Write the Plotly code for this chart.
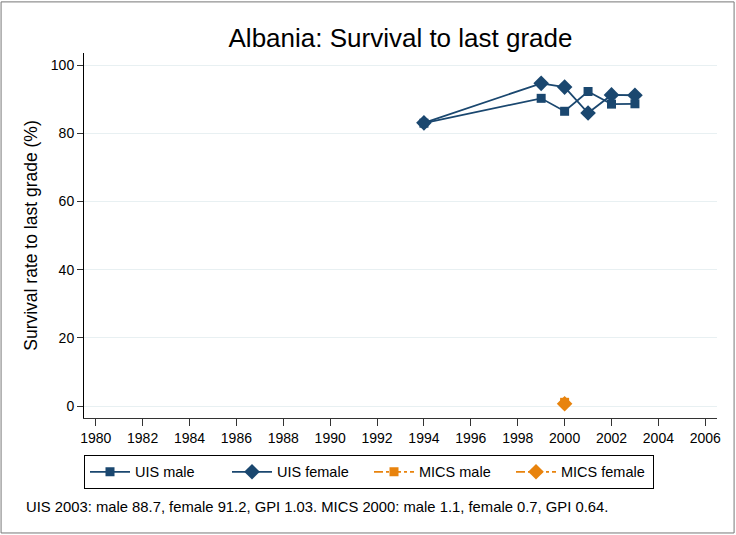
import plotly.graph_objects as go

# survival rate to last grade (%)
uis_years = [1994, 1999, 2000, 2001, 2002, 2003]
uis_male = [83.0, 90.3, 86.5, 92.3, 88.6, 88.7]
uis_female = [83.1, 94.7, 93.6, 86.0, 91.3, 91.2]

mics_years = [2000]
mics_male = [1.1]
mics_female = [0.7]

x_ticks = list(range(1980, 2007, 2))
y_ticks = [0, 20, 40, 60, 80, 100]

NAVY = "#1a476f"
ORANGE = "#e8830d"
FONT = "Liberation Sans, Arial, sans-serif"

fig = go.Figure()

fig.add_trace(go.Scatter(
    x=uis_years, y=uis_male, name="UIS male", mode="lines+markers",
    line=dict(color=NAVY, width=1.8),
    marker=dict(symbol="square", size=9, color=NAVY)
))
fig.add_trace(go.Scatter(
    x=uis_years, y=uis_female, name="UIS female", mode="lines+markers",
    line=dict(color=NAVY, width=1.8),
    marker=dict(symbol="diamond", size=12, color=NAVY)
))
fig.add_trace(go.Scatter(
    x=mics_years, y=mics_male, name="MICS male", mode="lines+markers",
    line=dict(color=ORANGE, width=1.8, dash="dashdot"),
    marker=dict(symbol="square", size=9, color=ORANGE)
))
fig.add_trace(go.Scatter(
    x=mics_years, y=mics_female, name="MICS female", mode="lines+markers",
    line=dict(color=ORANGE, width=1.8, dash="dashdot"),
    marker=dict(symbol="diamond", size=12, color=ORANGE)
))

fig.update_xaxes(
    range=[1979.5, 2006.5], tickvals=x_ticks, showgrid=False, zeroline=False,
    showline=True, linecolor="#333333", linewidth=1, automargin=False,
    ticks="outside", ticklen=7, tickcolor="#333333",
    tickfont=dict(size=14, color="black")
)
fig.update_yaxes(
    range=[-3.5, 103.6], tickvals=y_ticks, showgrid=True, gridcolor="#e8f0f2",
    zeroline=False, showline=True, linecolor="black", linewidth=1, automargin=False,
    ticks="outside", ticklen=6, tickcolor="#333333",
    tickfont=dict(size=14, color="black"),
    title=dict(text="Survival rate to last grade (%)", font=dict(size=17.5, color="black"), standoff=8)
)

fig.add_annotation(
    text="UIS 2003: male 88.7, female 91.2, GPI 1.03. MICS 2000: male 1.1, female 0.7, GPI 0.64.",
    xref="paper", yref="paper", x=-0.0948, y=-0.244, xanchor="left", yanchor="middle",
    showarrow=False, font=dict(size=14.8, color="black")
)

fig.update_layout(
    width=736, height=535,
    title=dict(text="Albania: Survival to last grade", x=0.5, xref="paper", y=0.929,
               xanchor="center", yanchor="middle", font=dict(size=26, color="black")),
    font=dict(family=FONT, color="black"),
    paper_bgcolor="white", plot_bgcolor="white",
    margin=dict(l=84, r=19, t=53, b=117),
    showlegend=True,
    legend=dict(
        orientation="h", x=0.0, y=-0.101, xanchor="left", yanchor="top",
        bordercolor="black", borderwidth=1, bgcolor="white",
        font=dict(size=14.5, color="black"), itemwidth=40, entrywidth=87,
        traceorder="normal"
    ),
    shapes=[dict(type="rect", xref="paper", yref="paper", x0=-0.131, x1=1.027,
                 y0=-0.315, y1=1.140, line=dict(color="#777777", width=1))]
)

fig.write_html("out.html", config={"displayModeBar": False},
               post_script="document.body.style.margin='0';")
